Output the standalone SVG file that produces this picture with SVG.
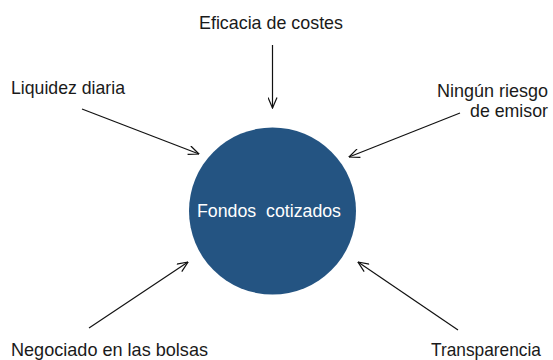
<svg xmlns="http://www.w3.org/2000/svg" width="553" height="360" viewBox="0 0 553 360">
<defs>
<style>
.lbl{font-family:"Liberation Sans",Arial,sans-serif;font-size:18.5px;fill:#1a1a1a}
.ctr{font-family:"Liberation Sans",Arial,sans-serif;font-size:17.5px;fill:#ffffff}
.conn{stroke:#111;stroke-width:1.2;fill:none;marker-end:url(#ah)}
</style>
<marker id="ah" viewBox="0 0 12 10" refX="11.5" refY="5" markerWidth="12" markerHeight="10" markerUnits="userSpaceOnUse" orient="auto">
<path d="M1,0.5 L11.5,5 L1,9.5" fill="none" stroke="#111" stroke-width="1.2"/>
</marker>
</defs>
<rect width="553" height="360" fill="#ffffff"/>
<g id="connectors">
<line class="conn" x1="272.5" y1="45" x2="272.5" y2="108"/>
<line class="conn" x1="82" y1="109" x2="199" y2="154"/>
<line class="conn" x1="460" y1="113" x2="349" y2="157"/>
<line class="conn" x1="89" y1="328" x2="188" y2="262"/>
<line class="conn" x1="458" y1="330" x2="358" y2="262"/>
</g>
<g id="center">
<circle cx="272.5" cy="211" r="83.5" fill="#245482"/>
<text class="ctr" x="197" y="217" textLength="144" lengthAdjust="spacingAndGlyphs" xml:space="preserve">Fondos  cotizados</text>
</g>
<g id="eficacia">
<text class="lbl" x="199" y="29" textLength="144" lengthAdjust="spacingAndGlyphs">Eficacia de costes</text>
</g>
<g id="liquidez">
<text class="lbl" x="11" y="94" textLength="114" lengthAdjust="spacingAndGlyphs">Liquidez diaria</text>
</g>
<g id="ninguno">
<text class="lbl" x="437" y="97" textLength="111" lengthAdjust="spacingAndGlyphs">Ningún riesgo</text>
<text class="lbl" x="470" y="117" textLength="78" lengthAdjust="spacingAndGlyphs">de emisor</text>
</g>
<g id="negociado">
<text class="lbl" x="11" y="356" textLength="197" lengthAdjust="spacingAndGlyphs">Negociado en las bolsas</text>
</g>
<g id="transparencia">
<text class="lbl" x="431" y="356" textLength="110" lengthAdjust="spacingAndGlyphs">Transparencia</text>
</g>
</svg>
